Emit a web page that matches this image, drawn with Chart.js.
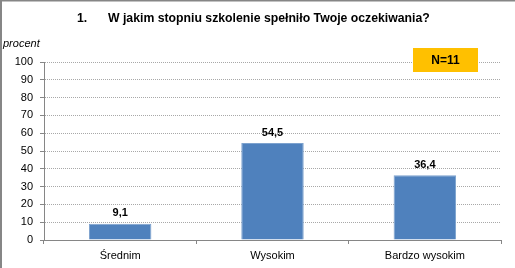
<!DOCTYPE html>
<html><head><meta charset="utf-8">
<script src="https://cdn.jsdelivr.net/npm/chart.js@4/dist/chart.umd.min.js"></script>
<style>html,body{margin:0;padding:0;background:#fff}#wrap{width:515px;height:268px;position:relative}</style>
</head><body><div id="wrap"><canvas id="c" width="515" height="268"></canvas></div>
<script>
const categories = ["Średnim", "Wysokim", "Bardzo wysokim"];
const values = [9.1, 54.5, 36.4];
const yTicks = [0,10,20,30,40,50,60,70,80,90,100];
const titleNumber = "1.";
const titleText = "W jakim stopniu szkolenie spełniło Twoje oczekiwania?";
const yAxisLabel = "procent";
const nLabel = "N=11";
const FONT = "'Liberation Sans', Arial, sans-serif";

const extras = {
  id: 'extras',
  afterDraw(chart) {
    const ctx = chart.ctx;
    ctx.save();
    // frame (top and left edges)
    ctx.fillStyle = '#868686';
    ctx.fillRect(0, 0, 515, 1.5);
    ctx.fillRect(0, 0, 2, 268);
    // title
    ctx.fillStyle = '#000';
    let fs = 14;
    ctx.font = 'bold ' + fs + 'px ' + FONT;
    while (ctx.measureText(titleText).width > 326 && fs > 10) { fs -= 0.25; ctx.font = 'bold ' + fs + 'px ' + FONT; }
    ctx.textAlign = 'left'; ctx.textBaseline = 'middle';
    ctx.fillText(titleNumber, 77, 19);
    ctx.fillText(titleText, 108, 19);
    // y axis label
    ctx.font = 'italic 11px ' + FONT; ctx.textAlign = 'left';
    ctx.fillText(yAxisLabel, 3, 44);
    // N box
    const y = chart.scales.y;
    const top = y.getPixelForValue(100) - 14;
    ctx.fillStyle = '#FFC000';
    ctx.fillRect(413, top, 65, 24);
    ctx.fillStyle = '#000'; ctx.font = 'bold 12px ' + FONT; ctx.textAlign = 'center';
    ctx.fillText(nLabel, 445.5, top + 12.5);
    // value labels
    const meta = chart.getDatasetMeta(0);
    ctx.font = 'bold 11px ' + FONT; ctx.textBaseline = 'bottom';
    meta.data.forEach((bar, i) => {
      ctx.fillText(values[i].toFixed(1).replace('.', ','), bar.x, bar.y - 5);
    });
    ctx.restore();
  }
};

new Chart(document.getElementById('c'), {
  type: 'bar',
  data: { labels: categories, datasets: [{ data: values, backgroundColor: '#4F81BD', borderColor: '#7DA2CE', borderWidth: 1, barPercentage: 0.41, categoryPercentage: 1 }] },
  options: {
    responsive: false, animation: false,
    layout: { padding: { left: 0, right: 14, top: 62, bottom: 0 } },
    plugins: { legend: { display: false }, tooltip: { enabled: false } },
    scales: {
      x: {
        afterFit(s) { s.height = 28; },
        grid: { display: true, offset: true, drawOnChartArea: false, drawTicks: true, tickLength: 4, color: '#868686' },
        border: { color: '#868686' },
        ticks: { color: '#000', font: { family: FONT, size: 11 }, padding: 5 }
      },
      y: {
        min: 0, max: 100,
        afterBuildTicks(s) { s.ticks = yTicks.map(v => ({ value: v })); },
        afterFit(s) { s.width = 44; },
        grid: { color: '#a8a8a8', tickLength: 4, tickColor: '#868686', lineWidth: 1 },
        border: { color: '#868686', dash: [1, 1] },
        ticks: { color: '#000', font: { family: FONT, size: 11 }, padding: 7 }
      }
    }
  },
  plugins: [extras]
});
</script></body></html>
